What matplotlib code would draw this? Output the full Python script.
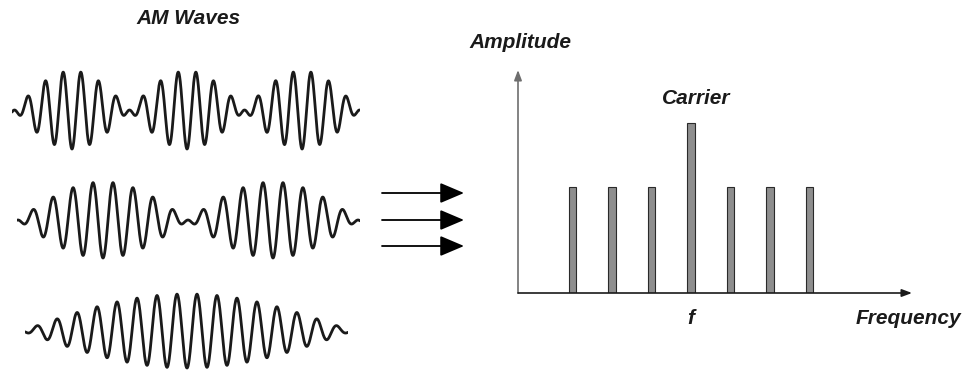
import matplotlib.pyplot as plt
import numpy as np

# spectrum: carrier at f with three sidebands on each side
freq_offsets = [-3, -2, -1, 0, 1, 2, 3]
amplitudes = [1.0, 1.0, 1.0, 1.6, 1.0, 1.0, 1.0]

# AM waves (time in arbitrary units)
wave_durations = [348, 343, 323]
envelope_peak_at = [60, 86, 162]
lobe_lengths = [115, 170, 330]
carrier_periods = [17.7, 20.0, 20.0]

W, H = 967, 371
plt.rcParams["font.family"] = ["Liberation Sans", "DejaVu Sans"]
label_style = dict(fontsize=15, fontweight="bold", fontstyle="italic",
                   ha="center", va="center", color="#1a1a1a")


def px_axes(x0, y0, x1, y1):
    return fig.add_axes([x0 / W, 1 - y1 / H, (x1 - x0) / W, (y1 - y0) / H])


fig = plt.figure(figsize=(W / 100, H / 100), dpi=100)

# overlay in pixel coordinates for labels and the three arrows
ov = fig.add_axes([0, 0, 1, 1])
ov.set_xlim(0, W)
ov.set_ylim(H, 0)
ov.axis("off")
ov.text(188, 18, "AM Waves", **label_style)
ov.text(520, 43, "Amplitude", **label_style)
ov.text(696, 98, "Carrier", **label_style)
ov.text(691, 318, "f", **label_style)
ov.text(908, 318, "Frequency", **label_style)
for y in [193, 220, 246]:
    ov.annotate("", xy=(464, y), xytext=(382, y),
                arrowprops=dict(arrowstyle="-|>,head_length=0.4,head_width=0.17",
                                mutation_scale=37, lw=1.3, color="black",
                                shrinkA=0, shrinkB=0))

# waves
wave_left = [12, 17, 25]
wave_mid = [110, 220, 331]
wave_amp = [39, 38, 37]
for i in range(3):
    t = np.linspace(0, wave_durations[i], 3000)
    tau = t - envelope_peak_at[i]
    s = -np.cos(np.pi * tau / lobe_lengths[i]) * np.cos(2 * np.pi * tau / carrier_periods[i])
    pad = 45
    a = px_axes(wave_left[i], wave_mid[i] - pad, wave_left[i] + wave_durations[i], wave_mid[i] + pad)
    a.plot(t, s, color="#1a1a1a", lw=2.0, solid_capstyle="round")
    a.set_xlim(0, wave_durations[i])
    a.set_ylim(-pad / wave_amp[i], pad / wave_amp[i])
    a.axis("off")

# spectrum
ax = px_axes(518, 70, 912, 293)
ax.bar(freq_offsets, amplitudes, width=0.2, color="#8e8e8e",
       edgecolor="#2a2a2a", linewidth=0.8, zorder=2)
ax.set_xlim((518 - 691) / 39.5, (912 - 691) / 39.5)
ax.set_ylim(0, 223 / 106)
ax.axis("off")
ax.annotate("", xy=(0, 1), xytext=(0, 0), xycoords="axes fraction",
            arrowprops=dict(arrowstyle="-|>,head_length=0.4,head_width=0.15",
                            mutation_scale=15, lw=1.2, color="#6e6e6e",
                            shrinkA=0, shrinkB=0))
ax.annotate("", xy=(1, 0), xytext=(0, 0), xycoords="axes fraction",
            arrowprops=dict(arrowstyle="-|>,head_length=0.4,head_width=0.15",
                            mutation_scale=15, lw=1.2, color="#1a1a1a",
                            shrinkA=0, shrinkB=0), zorder=3)

fig.savefig("out.png", dpi=100)
